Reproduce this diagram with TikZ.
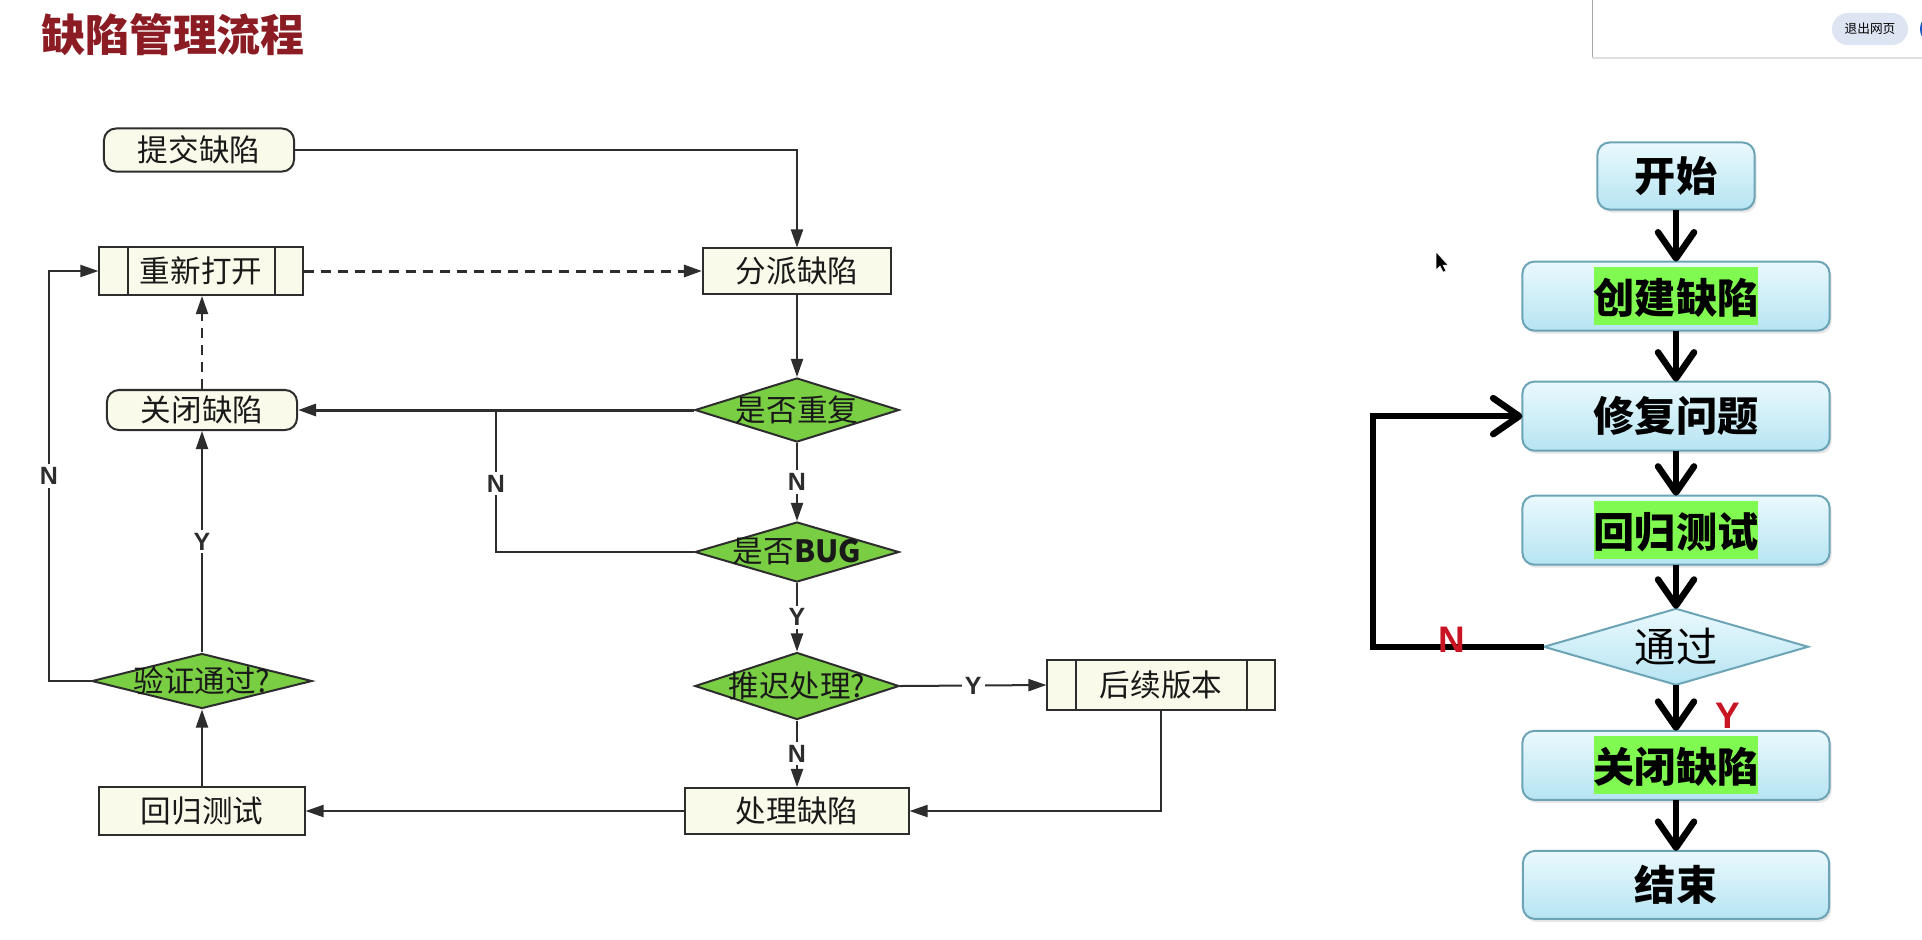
\documentclass[tikz,border=0pt]{standalone}
\usepackage{fontspec}
\usepackage{xcolor}
\usepackage{tikz}
\usetikzlibrary{positioning,shapes.geometric,arrows.meta,shadows}
\newfontfamily\cjk{Noto Sans CJK SC}
\newfontfamily\latinsans{Liberation Sans}
\definecolor{titleRed}{RGB}{140,28,36}
\definecolor{lineGray}{RGB}{45,45,45}
\definecolor{textDark}{RGB}{25,25,25}
\definecolor{creamFill}{RGB}{250,250,234}
\definecolor{diamondGreen}{RGB}{122,206,68}
\definecolor{boxTop}{RGB}{234,249,253}
\definecolor{boxBottom}{RGB}{182,228,242}
\definecolor{boxBorder}{RGB}{108,164,182}
\definecolor{hlGreen}{RGB}{128,250,80}
\definecolor{labelRed}{RGB}{200,20,35}
\definecolor{btnFill}{RGB}{221,229,243}
\definecolor{btnBlue}{RGB}{30,90,200}
\newcommand{\titleTxt}{\cjk\bfseries\fontsize{12.5pt}{14pt}\selectfont}
\newcommand{\leftTxt}{\cjk\fontsize{8.7pt}{10pt}\selectfont}
\newcommand{\rightTxt}{\cjk\bfseries\fontsize{11.7pt}{13pt}\selectfont}
\newcommand{\ynTxt}{\latinsans\bfseries\fontsize{7.1pt}{8pt}\selectfont}
\newcommand{\redTxt}{\latinsans\bfseries\fontsize{10.5pt}{12pt}\selectfont}
\newcommand{\hlt}[1]{{\setlength{\fboxsep}{0pt}\colorbox{hlGreen}{\rule[-0.29em]{0pt}{1.41em}#1}}}

\begin{document}
\begin{tikzpicture}[x=0.01cm, y=-0.01cm]
	% Define styles for boxes
	\tikzset{
		box/.style={
			rectangle,
			draw=lineGray,
			line width=0.02cm,
			fill=creamFill,
			text=textDark,
			font=\leftTxt,
			minimum width=1.9cm,
			minimum height=0.45cm,
			inner sep=0pt
		},
		roundbox/.style={box, rounded corners=0.12cm},
		decision/.style={
			diamond,
			draw=lineGray,
			line width=0.02cm,
			fill=diamondGreen,
			minimum width=2.04cm,
			minimum height=0.64cm,
			inner sep=0pt
		},
		flow/.style={draw=lineGray, line width=0.02cm, -{Triangle[length=0.18cm, width=0.12cm]}},
		yn/.style={fill=white, text=lineGray, font=\ynTxt, inner sep=0.03cm},
		stepbox/.style={
			rectangle,
			rounded corners=0.12cm,
			draw=boxBorder,
			line width=0.02cm,
			top color=boxTop,
			bottom color=boxBottom,
			font=\rightTxt,
			minimum width=3.07cm,
			minimum height=0.69cm,
			inner sep=0pt,
			outer sep=0pt,
			drop shadow={shadow xshift=0.02cm, shadow yshift=-0.03cm, opacity=0.2}
		},
		bigflow/.style={line width=0.065cm, -{Straight Barb[length=0.26cm, width=0.36cm, round]}},
		redlbl/.style={text=labelRed, font=\redTxt, inner sep=0pt}
	}

	\useasboundingbox (0,0) rectangle (1922,939);
	\fill[white] (0,0) rectangle (1922,939);

	% Title
	\node[text=titleRed, font=\titleTxt] (titleL) at (173,35) {缺陷管理流程};

	% Nodes for left flow
	\node[roundbox, minimum height=0.43cm] (submitL) at (199,150) {提交缺陷};
	\node[box, minimum width=2.03cm, minimum height=0.48cm] (reopenL) at (201,271) {重新打开};
	\node[box, minimum width=1.88cm] (assignL) at (797,271) {分派缺陷};
	\node[decision, label={[font=\leftTxt, text=textDark]center:是否重复}] (dupL) at (797,410) {};
	\node[roundbox, minimum height=0.40cm] (closeL) at (202,410) {关闭缺陷};
	\node[decision, minimum height=0.60cm, label={[font=\leftTxt, text=textDark]center:是否{\bfseries BUG}}] (bugL) at (797,552) {};
	\node[decision, minimum height=0.67cm, label={[font=\leftTxt, text=textDark]center:推迟处理?}] (delayL) at (797,686) {};
	\node[box, minimum width=2.27cm, minimum height=0.50cm] (laterL) at (1161,685) {后续版本};
	\node[box, minimum width=2.23cm, minimum height=0.46cm] (fixL) at (797,811) {处理缺陷};
	\node[box, minimum width=2.05cm, minimum height=0.48cm] (regressL) at (202,811) {回归测试};
	\node[decision, minimum width=2.20cm, minimum height=0.55cm, label={[font=\leftTxt, text=textDark]center:验证通过?}] (verifyL) at (202,681) {};
	\coordinate (loopL) at (49,0);

	% side bars of the process boxes
	\draw[draw=lineGray, line width=0.02cm] ([xshift=0.30cm]reopenL.north west) -- ([xshift=0.30cm]reopenL.south west);
	\draw[draw=lineGray, line width=0.02cm] ([xshift=-0.29cm]reopenL.north east) -- ([xshift=-0.29cm]reopenL.south east);
	\draw[draw=lineGray, line width=0.02cm] ([xshift=0.30cm]laterL.north west) -- ([xshift=0.30cm]laterL.south west);
	\draw[draw=lineGray, line width=0.02cm] ([xshift=-0.29cm]laterL.north east) -- ([xshift=-0.29cm]laterL.south east);

	% Arrows for left flow
	\draw[flow] (submitL.east) -| (assignL.north);
	\draw[flow, line width=0.03cm, dash pattern=on 0.1cm off 0.07cm] (reopenL.east) -- (assignL.west);
	\draw[flow] (assignL.south) -- (dupL.north);
	\draw[flow, line width=0.03cm] (dupL.west) -- (closeL.east);
	\draw[flow] (dupL.south) -- node[yn]{N} (bugL.north);
	\draw[draw=lineGray, line width=0.02cm] (bugL.west) -| node[yn, pos=0.74]{N} (dupL.west -| 496,0);
	\draw[flow] (bugL.south) -- node[yn]{Y} (delayL.north);
	\draw[flow] (delayL.east) -- node[yn]{Y} (laterL.west);
	\draw[flow] (delayL.south) -- node[yn]{N} (fixL.north);
	\draw[flow] (laterL.south) |- (fixL.east);
	\draw[flow] (fixL.west) -- (regressL.east);
	\draw[flow] (regressL.north) -- (verifyL.south);
	\draw[flow] (verifyL.north) -- node[yn]{Y} (closeL.south);
	\draw[flow, dash pattern=on 0.1cm off 0.07cm] (closeL.north) -- (reopenL.south -| closeL.north);
	\draw[flow] (verifyL.west) -| node[yn, pos=0.75]{N} (loopL |- reopenL.west) -- (reopenL.west);

	% Nodes for right flow
	\node[stepbox, minimum width=1.57cm, minimum height=0.67cm] (startR) at (1676,176) {开始};
	\node[stepbox, below=0.52cm of startR] (createR) {\hlt{创建缺陷}};
	\node[stepbox, below=0.51cm of createR] (repairR) {修复问题};
	\node[stepbox, below=0.45cm of repairR] (retestR) {\hlt{回归测试}};
	\node[diamond, draw=boxBorder, line width=0.02cm, top color=boxTop, bottom color=boxBottom,
		minimum width=2.64cm, minimum height=0.76cm, inner sep=0pt, outer sep=0pt,
		label={[font=\cjk\fontsize{11.7pt}{13pt}\selectfont]center:通过},
		below=0.44cm of retestR] (passR) {};
	\node[stepbox, below=0.46cm of passR] (closeR) {\hlt{关闭缺陷}};
	\node[stepbox, minimum width=3.06cm, minimum height=0.68cm, below=0.51cm of closeR] (endR) {结束};
	\coordinate (loopR) at (1373,0);

	% Arrows for right flow
	\draw[bigflow] (startR) -- (createR);
	\draw[bigflow] (createR) -- (repairR);
	\draw[bigflow] (repairR) -- (retestR);
	\draw[bigflow] (retestR) -- (passR);
	\draw[bigflow] (passR) -- node[redlbl, xshift=0.52cm, yshift=-0.08cm]{Y} (closeR);
	\draw[bigflow] (closeR) -- (endR);
	\draw[bigflow] (passR.west) -| node[redlbl, pos=0.27, yshift=0.07cm]{N} (loopR |- repairR.west) -- (repairR.west);

	% browser overlay, top right
	\fill[white] (1592,-2) rectangle (1930,58);
	\draw[gray!70, line width=0.01cm] (1592,0) -- (1592,58);
	\draw[gray!25, line width=0.02cm] (1592,58) -- (1930,58);
	\node[fill=btnFill, rounded corners=0.16cm, minimum width=0.76cm, minimum height=0.32cm, inner sep=0pt,
		font=\cjk\fontsize{3.6pt}{4pt}\selectfont] (exitBtn) at (1870,29) {退出网页};
	\fill[btnBlue] (1936,29) circle (0.16cm);

	% mouse pointer
	\filldraw[black, draw=white, line width=0.005cm] (1436,252) -- (1436,270) -- (1440,266) -- (1443,272) -- (1446,271) -- (1443,265) -- (1448,265) -- cycle;
\end{tikzpicture}
\end{document}
